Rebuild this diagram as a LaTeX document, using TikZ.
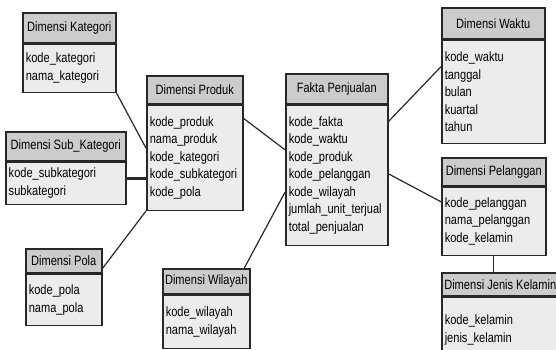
\documentclass[tikz,border=0pt]{standalone}
\usepackage{fontspec}
\setmainfont{Liberation Sans}[FakeStretch=0.82]
\usetikzlibrary{positioning,calc}
\definecolor{headgray}{RGB}{204,204,204}
\definecolor{bodygray}{RGB}{236,236,236}
\definecolor{framegray}{RGB}{40,40,40}
\tikzset{
  tabhead/.style={draw=framegray, fill=headgray, minimum width=#1, inner sep=2pt, anchor=north west},
  tabbody/.style={draw=framegray, fill=bodygray, text width=#1, inner xsep=3pt, inner ysep=2pt, align=left},
  link/.style={draw=framegray, line width=1.2pt},
  fatlink/.style={draw=framegray, line width=3pt}
}
\begin{document}
\begin{tikzpicture}[x=1pt, y=-1pt, line width=1.5pt, every node/.style={font=\fontsize{13.5}{17.5}\selectfont}]
   \clip (0,0) rectangle (556,349);
   \fill[white] (0,0) rectangle (556,349);
   % dimension tables
   \node[tabhead=93pt, minimum height=30pt] (kat) at (22,12) {Dimensi Kategori};
   \node[tabbody=87pt, minimum height=48pt, below=0pt of kat] (katb) {kode\_kategori\\nama\_kategori};
   \node[tabhead=96pt, minimum height=28pt] (prod) at (146,75) {Dimensi Produk};
   \node[tabbody=90pt, minimum height=105pt, below=0pt of prod] (prodb) {kode\_produk\\nama\_produk\\kode\_kategori\\kode\_subkategori\\kode\_pola};
   \node[tabhead=120pt, minimum height=29pt] (sub) at (5,131) {Dimensi Sub\_Kategori};
   \node[tabbody=114pt, minimum height=42pt, below=0pt of sub] (subb) {kode\_subkategori\\subkategori};
   \node[tabhead=76pt, minimum height=24pt] (pola) at (25,248) {Dimensi Pola};
   \node[tabbody=70pt, minimum height=51pt, below=0pt of pola] (polab) {kode\_pola\\nama\_pola};
   \node[tabhead=87pt, minimum height=25pt] (wil) at (162,268) {Dimensi Wilayah};
   \node[tabbody=81pt, minimum height=53pt, below=0pt of wil] (wilb) {kode\_wilayah\\nama\_wilayah};
   \node[tabhead=103pt, minimum height=31pt] (wkt) at (441,7) {Dimensi Waktu};
   \node[tabbody=97pt, minimum height=103pt, below=0pt of wkt] (wktb) {kode\_waktu\\tanggal\\bulan\\kuartal\\tahun};
   \node[tabhead=104pt, minimum height=28pt] (pel) at (441,157) {Dimensi Pelanggan};
   \node[tabbody=98pt, minimum height=68pt, below=0pt of pel] (pelb) {kode\_pelanggan\\nama\_pelanggan\\kode\_kelamin};
   \node[tabhead=117pt, minimum height=23pt, inner xsep=1pt] (jk) at (441,272) {Dimensi Jenis Kelamin};
   \node[tabbody=111pt, minimum height=65pt, below=0pt of jk] (jkb) {kode\_kelamin\\jenis\_kelamin};
   % fact table
   \node[tabhead=102pt, minimum height=30pt] (fakta) at (285,73) {Fakta Penjualan};
   \node[tabbody=96pt, minimum height=140pt, below=0pt of fakta] (faktab) {kode\_fakta\\kode\_waktu\\kode\_produk\\kode\_pelanggan\\kode\_wilayah\\jumlah\_unit\_terjual\\total\_penjualan};
   % relations
   \draw[link] (katb.south east) -- ($(prodb.north west)!0.41!(prodb.south west)$);
   \coordinate (subc) at ($(subb.north east)!0.38!(subb.south east)$);
   \draw[fatlink] (subc) -- (prodb.west |- subc);
   \draw[link] ($(pola.north east)!0.8!(pola.south east)$) -- (prodb.south west);
   \draw[link] ($(prodb.north east)!0.13!(prodb.south east)$) -- ($(faktab.north west)!0.32!(faktab.south west)$);
   \draw[link] ($(wil.north west)!0.93!(wil.north east)$) -- ($(faktab.north west)!0.62!(faktab.south west)$);
   \draw[link] ($(faktab.north east)!0.12!(faktab.south east)$) -- ($(wktb.north west)!0.26!(wktb.south west)$);
   \draw[link] ($(faktab.north east)!0.49!(faktab.south east)$) -- ($(pelb.north west)!0.22!(pelb.south west)$);
   \draw[link] (pelb.south) -- (pelb.south |- jk.north);
\end{tikzpicture}
\end{document}
